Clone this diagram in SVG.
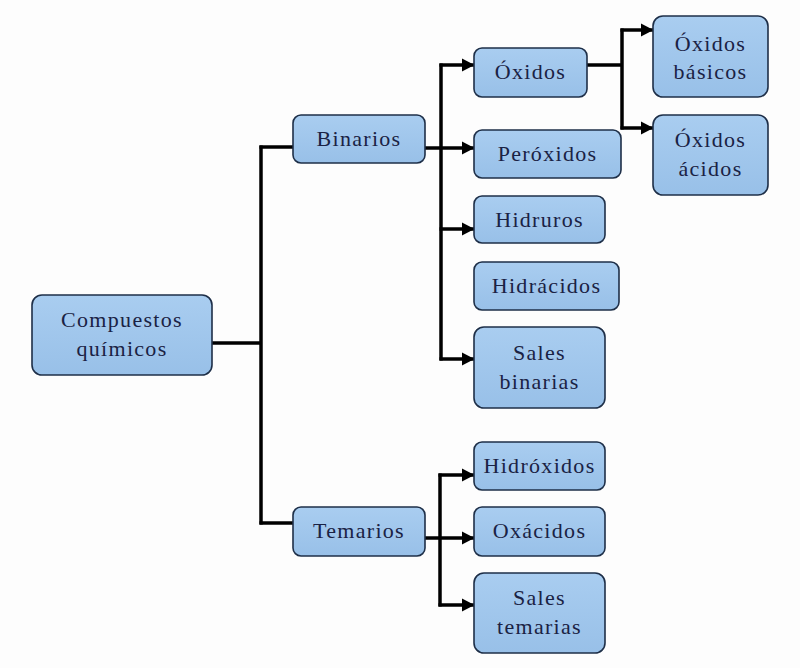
<svg xmlns="http://www.w3.org/2000/svg" width="800" height="668" viewBox="0 0 800 668">
<defs>
<linearGradient id="g" x1="0" y1="0" x2="0" y2="1">
<stop offset="0" stop-color="#a9cdf0"/>
<stop offset="1" stop-color="#98c0e8"/>
</linearGradient>
<marker id="ah" markerUnits="userSpaceOnUse" markerWidth="13" markerHeight="14" refX="12" refY="7" orient="auto">
<path d="M0,0.5 L12.5,7 L0,13.5 z" fill="#000"/>
</marker>
<style>
.box{fill:url(#g);stroke:#1e2f48;stroke-width:1.6}
.t{font-family:'Liberation Serif','DejaVu Serif',Times,serif;font-size:22px;letter-spacing:1.3px;fill:#1a2244;text-anchor:middle}
.c{fill:none;stroke:#000;stroke-width:3.5}
.a{fill:none;stroke:#000;stroke-width:3.5;marker-end:url(#ah)}
</style>
</defs>
<rect width="800" height="668" fill="#fdfdfd"/>
<g id="connectors">
<path class="c" d="M212,343 H261"/>
<path class="c" d="M261,145.5 V524.5"/>
<path class="c" d="M259.5,147 H293"/>
<path class="c" d="M259.5,523 H293"/>
<path class="c" d="M441,63.5 V360.5"/>
<path class="a" d="M439.5,65 H474"/>
<path class="a" d="M425,148 H474"/>
<path class="a" d="M439.5,229 H474"/>
<path class="a" d="M439.5,359 H474"/>
<path class="c" d="M587,65 H622"/>
<path class="c" d="M622,28.5 V129.5"/>
<path class="a" d="M620.5,30 H653"/>
<path class="a" d="M620.5,128 H653"/>
<path class="a" d="M425,538 H474"/>
<path class="c" d="M440,473.5 V606.5"/>
<path class="a" d="M438.5,475 H474"/>
<path class="a" d="M438.5,605 H474"/>
</g>
<g id="compuestos">
<rect class="box" x="32" y="295" width="180" height="80" rx="10"/>
<text class="t" x="122" y="327" font-family="Liberation Serif, serif">Compuestos</text>
<text class="t" x="122" y="356" font-family="Liberation Serif, serif">químicos</text>
</g>
<g id="binarios">
<rect class="box" x="293" y="115" width="132" height="48" rx="8"/>
<text class="t" x="359" y="146">Binarios</text>
</g>
<g id="ternarios">
<rect class="box" x="293" y="507" width="132" height="49" rx="8"/>
<text class="t" x="359" y="538">Temarios</text>
</g>
<g id="oxidos">
<rect class="box" x="474" y="48" width="113" height="49" rx="8"/>
<text class="t" x="530.5" y="79">Óxidos</text>
</g>
<g id="peroxidos">
<rect class="box" x="474" y="130" width="147" height="48" rx="8"/>
<text class="t" x="547.5" y="161">Peróxidos</text>
</g>
<g id="hidruros">
<rect class="box" x="474" y="196" width="131" height="47" rx="8"/>
<text class="t" x="539.5" y="227">Hidruros</text>
</g>
<g id="hidracidos">
<rect class="box" x="474" y="262" width="145" height="48" rx="8"/>
<text class="t" x="546.5" y="293">Hidrácidos</text>
</g>
<g id="sales-binarias">
<rect class="box" x="474" y="327" width="131" height="81" rx="10"/>
<text class="t" x="539.5" y="360">Sales</text>
<text class="t" x="539.5" y="389">binarias</text>
</g>
<g id="oxidos-basicos">
<rect class="box" x="653" y="16" width="115" height="81" rx="10"/>
<text class="t" x="710.5" y="51">Óxidos</text>
<text class="t" x="710.5" y="79">básicos</text>
</g>
<g id="oxidos-acidos">
<rect class="box" x="653" y="115" width="115" height="80" rx="10"/>
<text class="t" x="710.5" y="147">Óxidos</text>
<text class="t" x="710.5" y="176">ácidos</text>
</g>
<g id="hidroxidos">
<rect class="box" x="474" y="442" width="131" height="48" rx="8"/>
<text class="t" x="539.5" y="473">Hidróxidos</text>
</g>
<g id="oxacidos">
<rect class="box" x="474" y="507" width="131" height="49" rx="8"/>
<text class="t" x="539.5" y="538">Oxácidos</text>
</g>
<g id="sales-ternarias">
<rect class="box" x="474" y="573" width="131" height="80" rx="10"/>
<text class="t" x="539.5" y="605">Sales</text>
<text class="t" x="539.5" y="634">temarias</text>
</g>
</svg>
